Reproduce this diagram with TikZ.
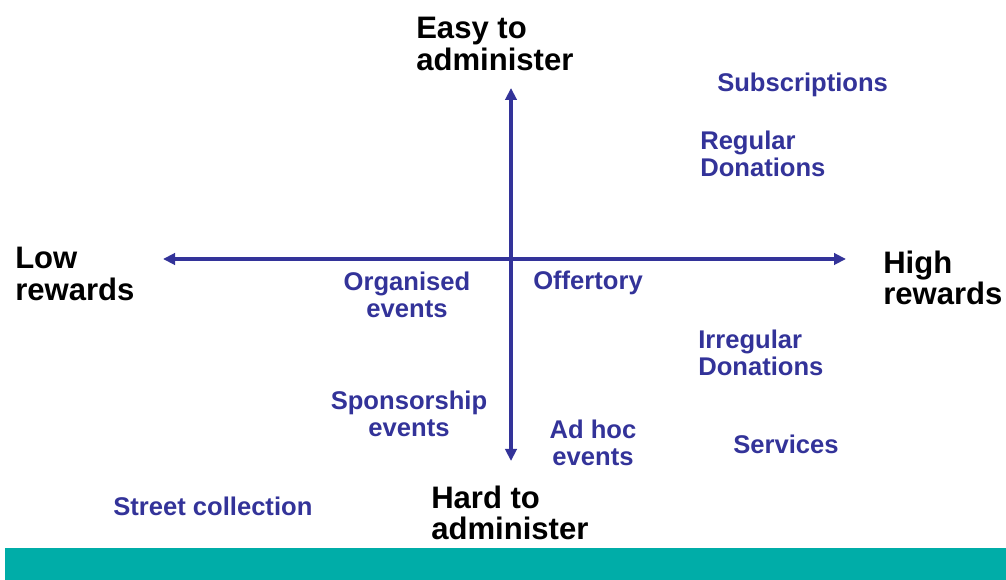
\documentclass[tikz,border=0pt]{standalone}
\usepackage{fontspec}
\setmainfont{Liberation Sans}
\usetikzlibrary{arrows.meta}

\definecolor{axisblue}{RGB}{51,51,153}
\definecolor{barteal}{RGB}{0,173,168}

\begin{document}
\begin{tikzpicture}[x=0.75pt, y=-0.75pt,
		axis/.style={draw=axisblue, line width=2.3pt, -{Triangle[length=9pt, width=8.5pt]}},
		pole/.style={inner sep=0pt, align=left, font=\fontsize{23.3}{23.3}\selectfont\bfseries},
		source/.style={inner sep=0pt, text=axisblue, font=\fontsize{19.2}{20.2}\selectfont\bfseries}]
	
	\useasboundingbox (0,0) rectangle (1006,580);
	
	% Dải màu ở chân trang
	\fill[barteal] (5,548) rectangle (1006,580);
	
	% Tâm và các đầu mút của hai trục
	\coordinate (O) at (511,259);
	\coordinate (top) at (511,88);
	\coordinate (bottom) at (511,461);
	\coordinate (left) at (163,259);
	\coordinate (right) at (846,259);
	
	% Vẽ hai trục
	\draw[axis] (O) -- (top);
	\draw[axis] (O) -- (bottom);
	\draw[axis] (O) -- (left);
	\draw[axis] (O) -- (right);
	
	% Nhãn ở bốn đầu trục
	\node[pole, anchor=west] (easy) at (416,44) {Easy to\\administer};
	\node[pole, anchor=west] (hard) at (431,513) {Hard to\\administer};
	\node[pole, anchor=west] (low) at (15,274) {Low\\rewards};
	\node[pole, anchor=west] (high) at (883,278) {High\\rewards};
	
	% Các nguồn thu
	\node[source, anchor=west] (subs) at (717,85) {Subscriptions};
	\node[source, anchor=west, align=left] (regular) at (700,154) {Regular\\Donations};
	\node[source, align=center] (organised) at (407,295) {Organised\\events};
	\node[source, anchor=west] (offertory) at (533,283) {Offertory};
	\node[source, anchor=west, align=left] (irregular) at (698,353) {Irregular\\Donations};
	\node[source, align=center] (sponsor) at (409,414) {Sponsorship\\events};
	\node[source, align=center] (adhoc) at (593,443) {Ad hoc\\events};
	\node[source, anchor=west] (services) at (733,444) {Services};
	\node[source, anchor=west] (street) at (113,506) {Street collection};
	
\end{tikzpicture}
\end{document}
